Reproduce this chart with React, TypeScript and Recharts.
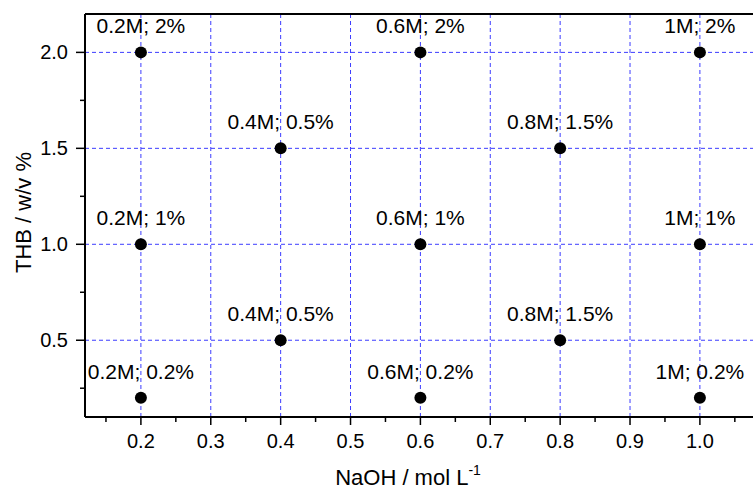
import React from "react";
import { ScatterChart, Scatter, XAxis, YAxis, ReferenceLine, Label, LabelList } from "recharts";

const naoh = [0.2, 0.6, 1.0, 0.4, 0.8, 0.2, 0.6, 1.0, 0.4, 0.8, 0.2, 0.6, 1.0];
const thb = [2.0, 2.0, 2.0, 1.5, 1.5, 1.0, 1.0, 1.0, 0.5, 0.5, 0.2, 0.2, 0.2];
const pointLabels = [
  "0.2M; 2%", "0.6M; 2%", "1M; 2%",
  "0.4M; 0.5%", "0.8M; 1.5%",
  "0.2M; 1%", "0.6M; 1%", "1M; 1%",
  "0.4M; 0.5%", "0.8M; 1.5%",
  "0.2M; 0.2%", "0.6M; 0.2%", "1M; 0.2%",
];
const xTicks = [0.15, 0.2, 0.25, 0.3, 0.35, 0.4, 0.45, 0.5, 0.55, 0.6, 0.65, 0.7, 0.75, 0.8, 0.85, 0.9, 0.95, 1.0, 1.05];
const xMajor = [0.2, 0.3, 0.4, 0.5, 0.6, 0.7, 0.8, 0.9, 1.0];
const yTicks = [0.25, 0.5, 0.75, 1.0, 1.25, 1.5, 1.75, 2.0];
const yMajor = [0.5, 1.0, 1.5, 2.0];

const data = naoh.map((x, i) => ({ x, y: thb[i], label: pointLabels[i] }));

const FONT = "'Liberation Sans', Arial, sans-serif";
const GRID = "#3c3cff";

const isMajor = (v: number, majors: number[]) => majors.some((m) => Math.abs(m - v) < 1e-6);

const XTick = (props: any) => {
  const { x, y, payload } = props;
  const major = isMajor(payload.value, xMajor);
  return (
    <g>
      <line x1={x} y1={y} x2={x} y2={y + (major ? 8 : 5)} stroke="#000" strokeWidth={1.5} />
      {major && (
        <text x={x} y={y + 31} textAnchor="middle" fontSize={20} fontFamily={FONT} fill="#000">
          {payload.value.toFixed(1)}
        </text>
      )}
    </g>
  );
};

const YTick = (props: any) => {
  const { x, y, payload } = props;
  const major = isMajor(payload.value, yMajor);
  return (
    <g>
      <line x1={x} y1={y} x2={x - (major ? 9 : 5)} y2={y} stroke="#000" strokeWidth={1.5} />
      {major && (
        <text x={x - 17} y={y + 7} textAnchor="end" fontSize={20} fontFamily={FONT} fill="#000">
          {payload.value.toFixed(1)}
        </text>
      )}
    </g>
  );
};

const Dot = (props: any) => {
  const { cx, cy } = props;
  return <circle cx={cx} cy={cy} r={6} fill="#000" />;
};

const renderPointLabel = (props: any) => {
  const { x, y, width, height, value } = props;
  const cx = x + (width || 0) / 2;
  const cy = y + (height || 0) / 2;
  return (
    <text x={cx} y={cy - 19} textAnchor="middle" fontSize={21} fontFamily={FONT} fill="#000">
      {value}
    </text>
  );
};

const XTitle = (props: any) => {
  const { viewBox } = props;
  const cx = viewBox.x + viewBox.width / 2 - 11;
  return (
    <text x={cx} y={485} textAnchor="middle" fontSize={22} fontFamily={FONT} fill="#000">
      <tspan>NaOH / mol L</tspan>
      <tspan fontSize={14} dy={-10}>-1</tspan>
    </text>
  );
};

const YTitle = (props: any) => {
  const { viewBox } = props;
  const cy = viewBox.y + viewBox.height / 2 - 3;
  return (
    <text x={31} y={cy} transform={`rotate(-90, 31, ${cy})`} textAnchor="middle" fontSize={22} fontFamily={FONT} fill="#000">
      THB / w/v %
    </text>
  );
};

export default function App() {
  return (
    <div style={{ position: "absolute", left: 0, top: 0, width: 753, height: 489, background: "#fff" }}>
      <ScatterChart width={753} height={489} margin={{ top: 14, right: 0, bottom: 0, left: 0 }}>
        <XAxis
          type="number"
          dataKey="x"
          domain={[0.12, 1.076]}
          ticks={xTicks}
          tick={<XTick />}
          tickLine={false}
          tickSize={0}
          tickMargin={0}
          height={72}
          axisLine={{ stroke: "#000", strokeWidth: 2 }}
          allowDataOverflow
          interval={0}
        >
          <Label content={<XTitle />} />
        </XAxis>
        <YAxis
          type="number"
          dataKey="y"
          domain={[0.1, 2.2]}
          ticks={yTicks}
          tick={<YTick />}
          tickLine={false}
          tickSize={0}
          tickMargin={0}
          width={85}
          axisLine={{ stroke: "#000", strokeWidth: 2 }}
          allowDataOverflow
          interval={0}
        >
          <Label content={<YTitle />} />
        </YAxis>
        {xMajor.map((v) => (
          <ReferenceLine key={"vx" + v} x={v} stroke={GRID} strokeDasharray="4 3" strokeWidth={1} />
        ))}
        {yMajor.map((v) => (
          <ReferenceLine key={"hy" + v} y={v} stroke={GRID} strokeDasharray="4 3" strokeWidth={1} />
        ))}
        <ReferenceLine y={2.2} stroke="#000" strokeWidth={2} />
        <Scatter data={data} shape={<Dot />} isAnimationActive={false}>
          <LabelList dataKey="label" content={renderPointLabel} />
        </Scatter>
      </ScatterChart>
    </div>
  );
}
